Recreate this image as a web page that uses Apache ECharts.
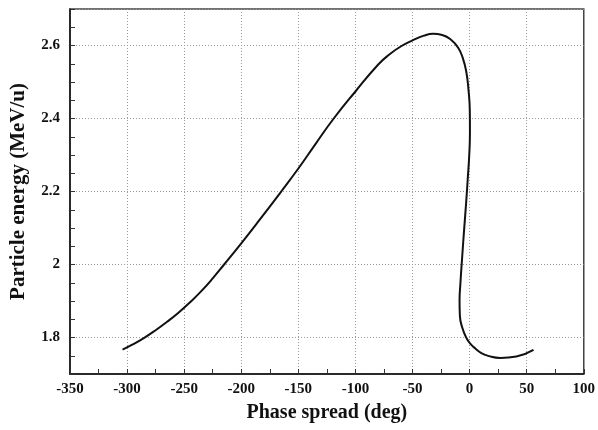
<!DOCTYPE html>
<html>
<head>
<meta charset="utf-8">
<script src="https://cdn.jsdelivr.net/npm/echarts@6/dist/echarts.min.js"></script>
<style>
html,body{margin:0;padding:0;background:#fff;}
#chart{width:598px;height:430px;}
</style>
</head>
<body>
<div id="chart"></div>
<script>
// Phase spread (deg)
var phaseSpread = [-304, -295, -285, -275, -265, -255, -245, -235, -225, -215, -200, -185, -165, -150, -135, -119, -100, -80, -70, -60, -50, -40, -32, -24, -16, -10, -6, -3, -1, 0.2, 0.3, -0.3, -1.5, -3, -4.8, -6.5, -8, -8.8, -8.5, -6.5, -3, 1, 5, 10, 17, 27, 41, 56];
// Particle energy (MeV/u)
var energy = [1.767, 1.781, 1.799, 1.820, 1.843, 1.868, 1.896, 1.927, 1.962, 2.000, 2.058, 2.118, 2.200, 2.263, 2.330, 2.400, 2.474, 2.548, 2.576, 2.598, 2.614, 2.627, 2.632, 2.629, 2.615, 2.594, 2.566, 2.530, 2.480, 2.420, 2.360, 2.300, 2.240, 2.170, 2.095, 2.020, 1.950, 1.900, 1.860, 1.828, 1.800, 1.782, 1.770, 1.758, 1.749, 1.744, 1.748, 1.766];
var xTicks = [-350, -300, -250, -200, -150, -100, -50, 0, 50, 100];
var yTicks = [1.8, 2, 2.2, 2.4, 2.6];

var data = phaseSpread.map(function (x, i) { return [x, energy[i]]; });
var font = '"Liberation Serif", "Times New Roman", serif';
var chart = echarts.init(document.getElementById('chart'), null, {renderer: 'canvas'});
chart.setOption({
  backgroundColor: '#fff',
  animation: false,
  grid: {left: 69, right: 11, top: 9, bottom: 56, show: true, borderColor: '#444', borderWidth: 1.5, backgroundColor: 'transparent'},
  xAxis: {
    type: 'value', min: xTicks[0], max: xTicks[xTicks.length - 1], interval: 50,
    name: 'Phase spread (deg)', nameLocation: 'middle', nameGap: 29,
    nameTextStyle: {fontFamily: font, fontWeight: 'bold', fontSize: 20, color: '#111'},
    axisLine: {show: true, onZero: false, lineStyle: {color: '#111', width: 1.5}},
    axisTick: {show: true, inside: true, length: 5, lineStyle: {color: '#333'}},
    minorTick: {show: true, splitNumber: 2, length: 5, lineStyle: {color: '#333'}},
    axisLabel: {fontFamily: font, fontWeight: 'bold', fontSize: 15, color: '#111', margin: 8},
    splitLine: {show: true, lineStyle: {color: '#999', type: [1, 2], width: 1}}
  },
  yAxis: [{
    type: 'value', min: 1.7, max: 2.7,
    name: 'Particle energy (MeV/u)', nameLocation: 'middle', nameGap: 41,
    nameTextStyle: {fontFamily: font, fontWeight: 'bold', fontSize: 21, color: '#111'},
    axisLine: {show: true, onZero: false, lineStyle: {color: '#111', width: 1.5}},
    axisTick: {show: false},
    axisLabel: {fontFamily: font, fontWeight: 'bold', fontSize: 15, color: '#111', margin: 10,
      showMinLabel: false, showMaxLabel: false,
      formatter: function (v) { return yTicks.indexOf(Math.round(v * 10) / 10) >= 0 ? String(Math.round(v * 10) / 10) : ''; }},
    splitLine: {show: true, lineStyle: {color: '#999', type: [1, 2], width: 1}}
  }, {
    type: 'value', min: 1.7, max: 2.7, interval: 0.05, position: 'left', offset: 0,
    axisLine: {show: false, onZero: false},
    axisTick: {show: true, inside: true, length: 5, lineStyle: {color: '#333'}},
    axisLabel: {show: false},
    splitLine: {show: false}
  }],
  series: [{
    type: 'line', data: data, yAxisIndex: 0, smooth: 0.5, showSymbol: false,
    lineStyle: {color: '#111', width: 2}
  }]
});
</script>
</body>
</html>
